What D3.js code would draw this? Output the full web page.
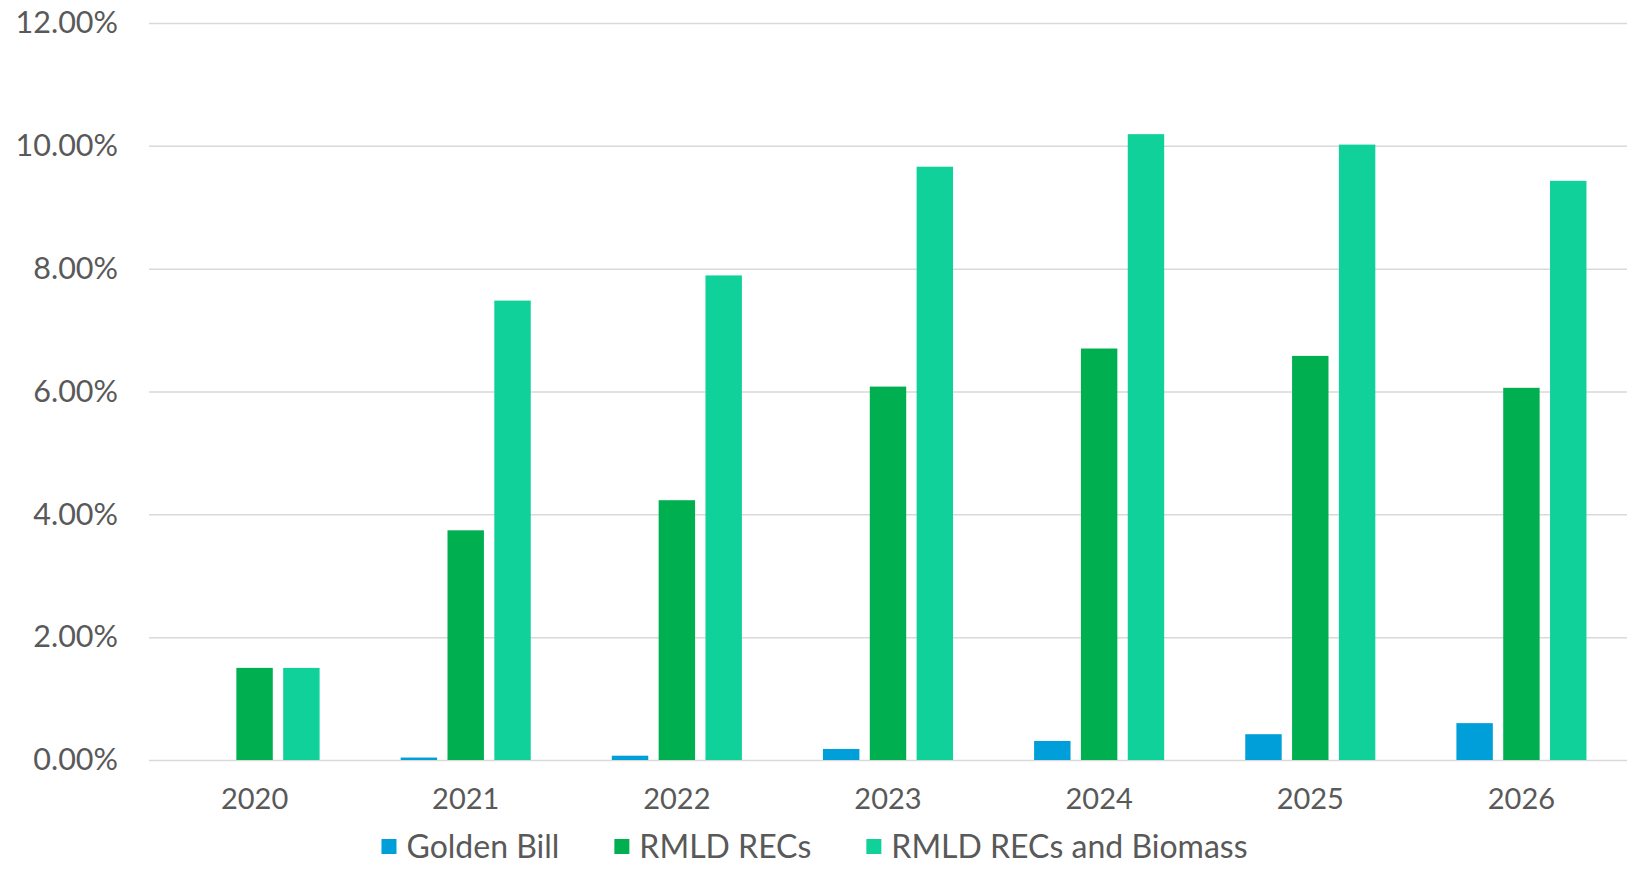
<html lang="en">
<head>
<meta charset="UTF-8">
<title>RMLD RECs</title>
<script src="https://d3js.org/d3.v7.min.js"></script>
<style>
  body { margin: 0; background: #fff; }
  text { font-family: "Century Gothic", Lato, sans-serif; fill: #595959; }
  .grid line { stroke: #d9d9d9; stroke-width: 1.5; }
  .axis text { font-size: 29px; }
  .grid text { font-size: 30.5px; }
  .legend text { font-size: 32px; }
</style>
</head>
<body>
<div id="chart"></div>
<script>
// data
const years = ["2020", "2021", "2022", "2023", "2024", "2025", "2026"];
const seriesNames = ["Golden Bill", "RMLD RECs", "RMLD RECs and Biomass"];
const goldenBill = [0, 0.0004, 0.0007, 0.0018, 0.0031, 0.0042, 0.0060];
const rmldRecs = [0.0150, 0.0374, 0.0423, 0.0608, 0.0670, 0.0658, 0.0606];
const rmldBiomass = [0.0150, 0.0748, 0.0789, 0.0966, 0.1019, 0.1002, 0.0943];
const yTicks = [0, 0.02, 0.04, 0.06, 0.08, 0.10, 0.12];
const colors = ["#009fd9", "#00b050", "#10d19a"];

const W = 1629, H = 869;
const margin = { top: 23, right: 2, bottom: 109, left: 149 };
const innerW = W - margin.left - margin.right;
const innerH = H - margin.top - margin.bottom;

const svg = d3.select("#chart").append("svg")
  .attr("width", W)
  .attr("height", H);

const g = svg.append("g")
  .attr("transform", `translate(${margin.left},${margin.top})`);

const x0 = d3.scaleBand()
  .domain(years)
  .range([0, innerW])
  .paddingInner(0.384)
  .paddingOuter(0.192);

const x1 = d3.scaleBand()
  .domain(seriesNames)
  .range([0, x0.bandwidth()])
  .paddingInner(0.222);

const y = d3.scaleLinear()
  .domain([0, 0.12])
  .range([innerH, 0]);

// gridlines + y labels
g.append("g")
  .attr("class", "grid")
  .call(d3.axisLeft(y).tickValues(yTicks).tickSize(-innerW).tickPadding(31)
    .tickFormat(d3.format(".2%")))
  .call(s => s.select(".domain").remove())
  .call(s => s.selectAll("text").attr("fill", "#595959"));

const rows = years.map((yr, i) => ({
  year: yr,
  values: [goldenBill[i], rmldRecs[i], rmldBiomass[i]]
}));

const groups = g.selectAll(".year")
  .data(rows)
  .enter().append("g")
  .attr("transform", d => `translate(${x0(d.year)},0)`);

groups.selectAll("rect")
  .data(d => d.values.map((v, k) => ({ key: seriesNames[k], value: v, k })))
  .enter().append("rect")
  .attr("x", d => x1(d.key))
  .attr("width", x1.bandwidth())
  .attr("y", d => y(d.value))
  .attr("height", d => y(0) - y(d.value))
  .attr("fill", d => colors[d.k]);

// x labels
g.append("g")
  .attr("class", "axis")
  .attr("transform", `translate(0,${innerH})`)
  .call(d3.axisBottom(x0).tickSize(0).tickPadding(28))
  .call(s => s.select(".domain").remove())
  .call(s => s.selectAll("text").attr("fill", "#595959"));

// legend, centred on the page
const legend = svg.append("g").attr("class", "legend");
const items = legend.selectAll("g")
  .data(seriesNames)
  .enter().append("g");

items.append("rect")
  .attr("width", 15)
  .attr("height", 15)
  .attr("y", -8)
  .attr("fill", (d, i) => colors[i]);

items.append("text")
  .attr("x", 25)
  .attr("dy", "0.35em")
  .text(d => d);

let cx = 0;
items.each(function () {
  const w = 25 + d3.select(this).select("text").node().getComputedTextLength();
  d3.select(this).attr("transform", `translate(${cx},0)`);
  cx += w + 55;
});
const total = cx - 55;
legend.attr("transform", `translate(${(W - total) / 2},847)`);
</script>
</body>
</html>
